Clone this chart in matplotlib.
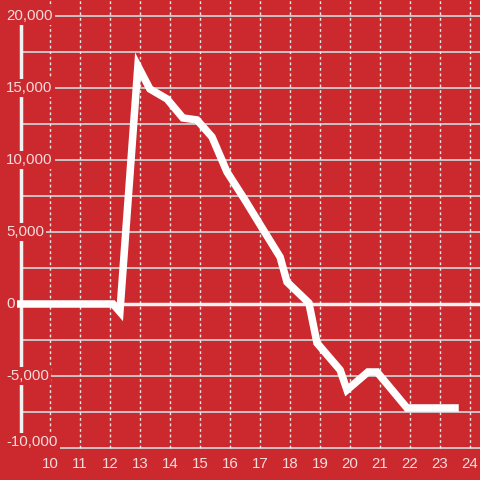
import matplotlib
matplotlib.use("Agg")
import matplotlib.pyplot as plt

# data
hours = [9.0, 12.1, 12.33, 12.93, 13.33, 13.9, 14.43, 14.9, 15.4, 15.9, 16.5,
         17.07, 17.67, 17.9, 18.63, 18.9, 19.67, 19.9, 20.6, 20.9, 21.9, 23.5]
values = [0, 0, -550, 16530, 14930, 14240, 12920, 12780, 11600, 9170, 7220,
          5280, 3260, 1530, 70, -2710, -4580, -5970, -4720, -4720, -7220, -7220]
x_ticks = list(range(10, 25))
y_major = [-10000, -5000, 0, 5000, 10000, 15000, 20000]
y_labels = ["-10,000", "-5,000", "0", "5,000", "10,000", "15,000", "20,000"]
y_minor = [-7500, -2500, 2500, 7500, 12500, 17500]

bg = "#cc292f"
txt = "#f3dcdc"
plt.rcParams["font.family"] = ["Liberation Sans", "DejaVu Sans"]

fig = plt.figure(figsize=(4.8, 4.8), dpi=100, facecolor=bg)
ax = fig.add_axes([0, 0, 1, 1], facecolor=bg)
xmin, xmax = 10 - 50 / 30, 10 + 430 / 30
ymax, ymin = 304 / 72 * 5000, -176 / 72 * 5000
ax.set_xlim(xmin, xmax)
ax.set_ylim(ymin, ymax)
ax.axis("off")

axis_x = 10 - 29 / 30
# horizontal grid
for v in y_major + y_minor:
    if v == 0:
        continue
    ax.plot([axis_x, xmax], [v, v], color="#cfcfcf", lw=1.3, zorder=1)
# vertical dotted grid
for xv in x_ticks:
    ax.plot([xv, xv], [-10000, ymax], color="#e8e8e8", lw=1,
            linestyle=(0, (2, 2)), zorder=1)
# zero line
ax.plot([axis_x, xmax], [0, 0], color="#f2f2f2", lw=2.5, zorder=2)
# left axis line
ax.plot([axis_x, axis_x], [-9250, 19450], color="#f2f2f2", lw=2.5, zorder=2)

# data line
ax.plot(hours, values, color="white", lw=5.4, solid_joinstyle="miter", zorder=3)

# y labels
for v, lab in zip(y_major, y_labels):
    ypos = v + 420 if v == -10000 else v
    ax.text(10 - 44 / 30, ypos, lab, ha="left", va="center", fontsize=10.8,
            color=txt, zorder=5,
            bbox=dict(boxstyle="square,pad=0.15", fc=bg, ec="none"))
# x labels
for xv in x_ticks:
    ax.text(xv, -11100, str(xv), ha="center", va="center", fontsize=10.8,
            color=txt, zorder=5)

fig.savefig("out.png", dpi=100, facecolor=bg)
